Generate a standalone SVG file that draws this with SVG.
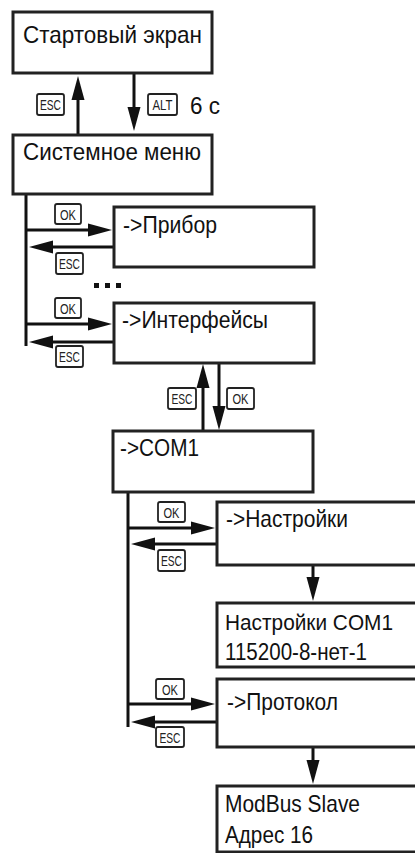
<svg xmlns="http://www.w3.org/2000/svg" width="415" height="853" viewBox="0 0 415 853">
<style>
.box{fill:#fff;stroke:#222;stroke-width:3}
.t{font-family:"Liberation Sans",Arial,sans-serif;font-size:24px;fill:#111}
.key rect{fill:#fff;stroke:#222;stroke-width:1.8}
.key text{font-family:"Liberation Sans",Arial,sans-serif;font-size:15px;fill:#222;text-anchor:middle}
.c line{stroke:#111;stroke-width:3;fill:none}
.c line.a{marker-end:url(#ah)}
</style>
<defs>
<marker id="ah" markerUnits="userSpaceOnUse" markerWidth="26" markerHeight="14" viewBox="0 -7 26 14" refX="2" refY="0" orient="auto">
<path d="M0,-6.5 L24,0 L0,6.5z" fill="#111"/>
</marker>
</defs>
<rect width="415" height="853" fill="#fff"/>

<g id="connectors" class="c">
<line class="a" x1="78" y1="135" x2="78" y2="98"/>
<line class="a" x1="134" y1="73" x2="134" y2="109"/>
<line x1="26" y1="194" x2="26" y2="346"/>
<line class="a" x1="26" y1="230" x2="90" y2="230"/>
<line class="a" x1="114" y1="247" x2="51" y2="247"/>
<line class="a" x1="26" y1="324" x2="90" y2="324"/>
<line class="a" x1="114" y1="342" x2="51" y2="342"/>
<line class="a" x1="203" y1="431" x2="203" y2="386"/>
<line class="a" x1="219" y1="363" x2="219" y2="408"/>
<line x1="128" y1="492" x2="128" y2="727"/>
<line class="a" x1="128" y1="528" x2="193" y2="528"/>
<line class="a" x1="217" y1="544" x2="153" y2="544"/>
<line class="a" x1="313" y1="565" x2="313" y2="579"/>
<line class="a" x1="128" y1="704" x2="193" y2="704"/>
<line class="a" x1="217" y1="722" x2="153" y2="722"/>
<line class="a" x1="313" y1="747" x2="313" y2="762"/>
<rect x="94" y="283" width="5" height="5" fill="#111"/>
<rect x="105" y="283" width="5" height="5" fill="#111"/>
<rect x="116" y="283" width="5" height="5" fill="#111"/>
</g>

<g id="keys">
<g class="key" id="k-esc1"><rect x="37" y="94" width="27" height="21" rx="2"/><text x="50.5" y="110" textLength="21" lengthAdjust="spacingAndGlyphs">ESC</text></g>
<g class="key" id="k-alt"><rect x="148" y="94" width="29" height="21" rx="2"/><text x="162.5" y="110" textLength="20" lengthAdjust="spacingAndGlyphs">ALT</text></g>
<g class="key" id="k-ok1"><rect x="55" y="204" width="26" height="20" rx="2"/><text x="68" y="219.5" textLength="16" lengthAdjust="spacingAndGlyphs">OK</text></g>
<g class="key" id="k-esc2"><rect x="56" y="253" width="27" height="21" rx="2"/><text x="69.5" y="269" textLength="21" lengthAdjust="spacingAndGlyphs">ESC</text></g>
<g class="key" id="k-ok2"><rect x="55" y="298" width="26" height="20" rx="2"/><text x="68" y="313.5" textLength="16" lengthAdjust="spacingAndGlyphs">OK</text></g>
<g class="key" id="k-esc3"><rect x="56" y="346" width="27" height="21" rx="2"/><text x="69.5" y="362" textLength="21" lengthAdjust="spacingAndGlyphs">ESC</text></g>
<g class="key" id="k-esc4"><rect x="168" y="388" width="28" height="21" rx="2"/><text x="182" y="404" textLength="21" lengthAdjust="spacingAndGlyphs">ESC</text></g>
<g class="key" id="k-ok3"><rect x="227" y="388" width="27" height="21" rx="2"/><text x="240.5" y="404" textLength="16" lengthAdjust="spacingAndGlyphs">OK</text></g>
<g class="key" id="k-ok4"><rect x="158" y="502" width="27" height="20" rx="2"/><text x="171.5" y="517.5" textLength="16" lengthAdjust="spacingAndGlyphs">OK</text></g>
<g class="key" id="k-esc5"><rect x="158" y="550" width="27" height="21" rx="2"/><text x="171.5" y="566" textLength="21" lengthAdjust="spacingAndGlyphs">ESC</text></g>
<g class="key" id="k-ok5"><rect x="156" y="679" width="28" height="20" rx="2"/><text x="170" y="694.5" textLength="16" lengthAdjust="spacingAndGlyphs">OK</text></g>
<g class="key" id="k-esc6"><rect x="156" y="727" width="28" height="20" rx="2"/><text x="170" y="742.5" textLength="21" lengthAdjust="spacingAndGlyphs">ESC</text></g>
<text class="t" x="190" y="114" textLength="30" lengthAdjust="spacingAndGlyphs">6 с</text>
</g>

<g id="n-start"><rect class="box" x="13" y="12" width="199" height="61"/><text class="t" x="23" y="43" textLength="179" lengthAdjust="spacingAndGlyphs">Стартовый экран</text></g>
<g id="n-sysmenu"><rect class="box" x="13" y="135" width="199" height="59"/><text class="t" x="23" y="160" textLength="178" lengthAdjust="spacingAndGlyphs">Системное меню</text></g>
<g id="n-pribor"><rect class="box" x="114" y="207" width="200" height="60"/><text class="t" x="123" y="233" textLength="94" lengthAdjust="spacingAndGlyphs">-&gt;Прибор</text></g>
<g id="n-interfaces"><rect class="box" x="114" y="303" width="200" height="60"/><text class="t" x="122" y="328" textLength="146" lengthAdjust="spacingAndGlyphs">-&gt;Интерфейсы</text></g>
<g id="n-com1"><rect class="box" x="113" y="431" width="200" height="61"/><text class="t" x="120" y="456" textLength="79" lengthAdjust="spacingAndGlyphs">-&gt;COM1</text></g>
<g id="n-settings"><rect class="box" x="217" y="502" width="199.5" height="63"/><text class="t" x="226" y="527" textLength="122" lengthAdjust="spacingAndGlyphs">-&gt;Настройки</text></g>
<g id="n-settings-com1"><rect class="box" x="217" y="603" width="199.5" height="64"/><text class="t" x="225" y="630" style="font-size:22.5px" textLength="168" lengthAdjust="spacingAndGlyphs">Настройки COM1</text><text class="t" x="225" y="660" textLength="142" lengthAdjust="spacingAndGlyphs">115200-8-нет-1</text></g>
<g id="n-protocol"><rect class="box" x="217" y="679" width="199.5" height="68"/><text class="t" x="227" y="710" textLength="111" lengthAdjust="spacingAndGlyphs">-&gt;Протокол</text></g>
<g id="n-modbus"><rect class="box" x="217" y="786" width="199.5" height="66"/><text class="t" x="225" y="812" textLength="135" lengthAdjust="spacingAndGlyphs">ModBus Slave</text><text class="t" x="225" y="843" textLength="88" lengthAdjust="spacingAndGlyphs">Адрес 16</text></g>
</svg>
